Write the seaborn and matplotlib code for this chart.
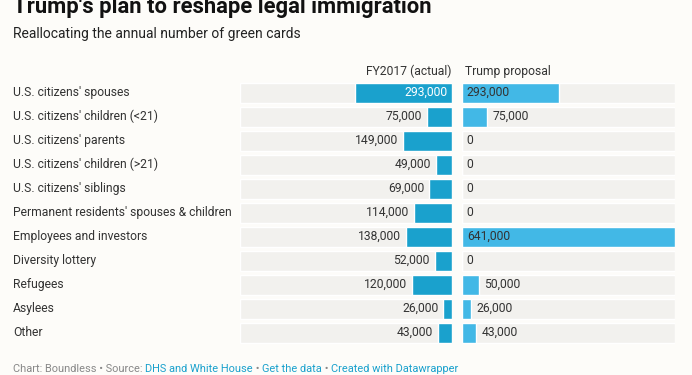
import matplotlib
matplotlib.use('Agg')
import matplotlib.pyplot as plt
import matplotlib.transforms as mtransforms
import seaborn as sns
import pandas as pd

# Green card categories and the two scenarios
categories = ["U.S. citizens' spouses", "U.S. citizens' children (<21)", "U.S. citizens' parents",
              "U.S. citizens' children (>21)", "U.S. citizens' siblings",
              "Permanent residents' spouses & children", "Employees and investors",
              "Diversity lottery", "Refugees", "Asylees", "Other"]
fy2017 = [293000, 75000, 149000, 49000, 69000, 114000, 138000, 52000, 120000, 26000, 43000]
proposal = [293000, 75000, 0, 0, 0, 0, 641000, 0, 50000, 26000, 43000]

bg = '#fdfcf9'
row_bg = '#f2f1ee'
blue_left = '#1aa1cd'
blue_right = '#42b8e6'
text_col = '#333333'

df = pd.DataFrame({'cat': categories, 'fy2017': fy2017, 'proposal': proposal})
vmax = max(max(fy2017), max(proposal))
df['full'] = vmax

sns.set_style('white')
plt.rcParams['font.family'] = ['Roboto', 'DejaVu Sans']

W, H = 692, 375
fig = plt.figure(figsize=(W / 100, H / 100), dpi=100, facecolor=bg)

def px_axes(x0, x1, y0, y1):
    return fig.add_axes([x0 / W, 1 - y1 / H, (x1 - x0) / W, (y1 - y0) / H])

ax_l = px_axes(240, 452, 80.7, 344.7)
ax_r = px_axes(462, 675, 80.7, 344.7)

for ax, col, color in [(ax_l, 'fy2017', blue_left), (ax_r, 'proposal', blue_right)]:
    ax.set_facecolor('none')
    sns.barplot(data=df, x='full', y='cat', color=row_bg, width=0.83, ax=ax, saturation=1)
    sns.barplot(data=df, x=col, y='cat', color=color, width=0.83, ax=ax, saturation=1)
    ax.set_xlim(0, vmax)
    ax.set_ylim(len(categories) - 0.5, -0.5)
    ax.set_xticks([])
    ax.set_yticks([])
    ax.set_xlabel('')
    ax.set_ylabel('')
    for s in ax.spines.values():
        s.set_visible(False)

ax_l.invert_xaxis()

fs = 8.7
for i, v in enumerate(fy2017):
    lab = f'{v:,}'
    if v > 200000:
        # label sits inside the bar, near its right end
        ax_l.annotate(lab, (0, i), xytext=(-3.5, 0), textcoords='offset points',
                      ha='right', va='center', color='white', fontsize=fs)
    else:
        ax_l.annotate(lab, (v, i), xytext=(-3.6, 0), textcoords='offset points',
                      ha='right', va='center', color=text_col, fontsize=fs)

for i, v in enumerate(proposal):
    lab = f'{v:,}'
    if v > 200000:
        ax_r.annotate(lab, (0, i), xytext=(3.5, 0), textcoords='offset points',
                      ha='left', va='center', color=text_col, fontsize=fs)
    else:
        ax_r.annotate(lab, (v, i), xytext=(3.0 if v == 0 else 4, 0), textcoords='offset points',
                      ha='left', va='center', color=text_col, fontsize=fs)

# category labels on the left edge
tr = mtransforms.blended_transform_factory(fig.transFigure, ax_l.transData)
for i, c in enumerate(categories):
    fig.text(13 / W, i, c, transform=tr, ha='left', va='center', color=text_col, fontsize=fs)

# column headers
fig.text(452 / W, 1 - 71 / H, 'FY2017 (actual)', ha='right', va='center', color=text_col, fontsize=fs)
fig.text(465 / W, 1 - 71 / H, 'Trump proposal', ha='left', va='center', color=text_col, fontsize=fs)

# title and subtitle
fig.text(13 / W, 1 - 13 / H, "Trump's plan to reshape legal immigration", ha='left', va='baseline',
         fontsize=15.8, fontweight='bold', color='#111111')
fig.text(13 / W, 1 - 38 / H, 'Reallocating the annual number of green cards', ha='left', va='baseline',
         fontsize=10, color='#222222')

# footer with coloured link parts
fig.canvas.draw()
renderer = fig.canvas.get_renderer()
parts = [('Chart: Boundless \u2022 Source: ', '#888888'), ('DHS and White House', '#1aa1cd'),
         (' \u2022 ', '#888888'), ('Get the data', '#1aa1cd'), (' \u2022 ', '#888888'),
         ('Created with Datawrapper', '#1aa1cd')]
x = 13 / W
for txt, c in parts:
    t = fig.text(x, 1 - 372 / H, txt, ha='left', va='baseline', fontsize=7.95, color=c)
    bb = t.get_window_extent(renderer)
    x = bb.x1 / W

fig.savefig('out.png', dpi=100, facecolor=bg)
